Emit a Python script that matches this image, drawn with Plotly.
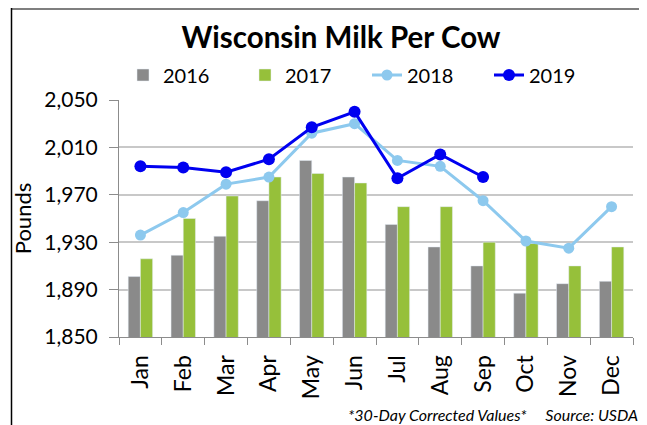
import plotly.graph_objects as go

months = ["Jan", "Feb", "Mar", "Apr", "May", "Jun", "Jul", "Aug", "Sep", "Oct", "Nov", "Dec"]
y2016 = [1901, 1919, 1935, 1965, 1999, 1985, 1945, 1926, 1910, 1887, 1895, 1897]
y2017 = [1916, 1950, 1969, 1985, 1988, 1980, 1960, 1960, 1930, 1929, 1910, 1926]
y2018 = [1936, 1955, 1979, 1985, 2022, 2030, 1999, 1994, 1965, 1931, 1925, 1960]
y2019 = [1994, 1993, 1989, 2000, 2027, 2040, 1984, 2004, 1985]
yticks = [1850, 1890, 1930, 1970, 2010, 2050]
ytick_text = ["1,850", "1,890", "1,930", "1,970", "2,010", "2,050"]

FONT = "Lato"

fig = go.Figure()
fig.add_trace(go.Bar(x=months, y=y2016, name="2016", marker_color="#8A8A8A"))
fig.add_trace(go.Bar(x=months, y=y2017, name="2017", marker_color="#96C03A"))
fig.add_trace(go.Scatter(x=months, y=y2018, name="2018", mode="lines+markers",
                         line=dict(color="#8DC9EE", width=3),
                         marker=dict(color="#8DC9EE", size=11)))
fig.add_trace(go.Scatter(x=months[:len(y2019)], y=y2019, name="2019", mode="lines+markers",
                         line=dict(color="#0000F0", width=3),
                         marker=dict(color="#0000F0", size=12)))

# the page body adds an 8px offset; lay out in reference-pixel terms minus that offset
OFF = 8
W, H = 647 - OFF, 425 - OFF
L, R, T, B = 119 - OFF, 633 - OFF, 100 - OFF, 337 - OFF
pw, ph = R - L, B - T

def px(x):
    return (x - OFF - L) / pw

def py(y):
    return (B - (y - OFF)) / ph

fig.update_layout(
    width=W, height=H,
    margin=dict(l=L, r=W - R, t=T, b=H - B, autoexpand=False),
    paper_bgcolor="white", plot_bgcolor="white",
    font=dict(family=FONT, color="black"),
    barmode="group", bargap=0.43, bargroupgap=0,
    title=dict(text="<b>Wisconsin Milk Per Cow</b>", x=(341 - OFF) / W, xanchor="center",
               xref="container", y=1 - (38 - OFF) / H, yanchor="middle", yref="container",
               font=dict(size=29.5, family=FONT, color="black")),
    legend=dict(orientation="h", x=px(123), xanchor="left", y=py(75), yanchor="middle",
                font=dict(size=20, family=FONT), entrywidth=77, entrywidthmode="pixels",
                bgcolor="rgba(0,0,0,0)", itemwidth=30, traceorder="normal"),
    xaxis=dict(type="category", tickangle=-90, tickfont=dict(size=23, family=FONT),
               showline=True, linecolor="#8C8C8C", linewidth=1,
               ticks="outside", tickson="boundaries", ticklen=7, tickcolor="#8C8C8C",
               ticklabelstandoff=8,
               showgrid=False, range=[-0.5, 11.5]),
    yaxis=dict(range=[1850, 2050], tickvals=yticks, ticktext=ytick_text,
               tickfont=dict(size=21, family=FONT), showgrid=True, gridcolor="#C8C8C8",
               gridwidth=1.5, showline=True, linecolor="#8C8C8C", ticks="outside",
               ticklen=9, tickcolor="#8C8C8C", zeroline=False, ticklabelstandoff=7,
               title=dict(text="Pounds", font=dict(size=22, family=FONT), standoff=6)),
    showlegend=True,
)

# Outer frame
fig.add_shape(type="line", xref="paper", yref="paper", x0=px(11.5), x1=px(642),
              y0=py(OFF + 1), y1=py(OFF + 1), line=dict(color="#7F7F7F", width=2))
fig.add_shape(type="line", xref="paper", yref="paper", x0=px(11.5), x1=px(11.5),
              y0=py(OFF), y1=py(425), line=dict(color="black", width=1.5))
fig.add_shape(type="line", xref="paper", yref="paper", x0=px(642), x1=px(642),
              y0=py(OFF), y1=py(425), line=dict(color="#555555", width=1.5))

fig.add_annotation(text="<i>*30-Day Corrected Values*&nbsp;&nbsp;&nbsp;&nbsp;&nbsp;Source: USDA</i>",
                   xref="paper", yref="paper", x=px(640), y=py(414),
                   xanchor="right", yanchor="middle", showarrow=False,
                   font=dict(size=16, family=FONT, color="black"))

fig.write_html("out.html")
